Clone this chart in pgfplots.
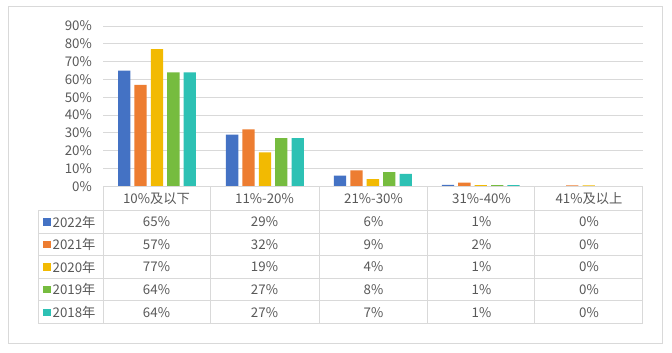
\documentclass[border=0pt]{standalone}
\usepackage{fontspec}
\setmainfont{Noto Sans CJK SC}
\usepackage{pgfplots}
\pgfplotsset{compat=1.18}
\definecolor{c1}{HTML}{4472C4}
\definecolor{c2}{HTML}{ED7D31}
\definecolor{c3}{HTML}{F2BA02}
\definecolor{c4}{HTML}{76BC3F}
\definecolor{c5}{HTML}{2DC1B4}
\definecolor{txt}{HTML}{595959}
\definecolor{grd}{HTML}{D9D9D9}
\begin{document}
\begin{tikzpicture}[font=\fontsize{13.3}{15}\selectfont]
\useasboundingbox (0pt,0pt) rectangle (672pt,353pt);
\fill[white] (0pt,0pt) rectangle (672pt,353pt);
\draw[grd,line width=1pt] (8pt,346pt) rectangle (662pt,9pt);
\begin{axis}[
  at={(103pt,166.7pt)}, anchor=south west,
  scale only axis, width=539.7pt, height=160.3pt,
  xmin=-0.5, xmax=4.5, ymin=0, ymax=90,
  clip=false,
  axis line style={draw=none},
  tick style={draw=none},
  xtick=\empty,
  ytick={0,10,20,30,40,50,60,70,80,90},
  yticklabels={0\%,10\%,20\%,30\%,40\%,50\%,60\%,70\%,80\%,90\%},
  yticklabel style={text=txt, inner sep=0pt, xshift=-11pt},
  ymajorgrids, grid style={grd, line width=0.9pt},
  ybar=4.1pt, bar width=12.3pt,
  /pgf/number format/assume math mode=true,
]
\addplot[fill=c1, draw=none] coordinates {(0,65) (1,29) (2,6) (3,0.8) (4,0)};
\addplot[fill=c2, draw=none] coordinates {(0,57) (1,32) (2,9) (3,2) (4,0.5)};
\addplot[fill=c3, draw=none] coordinates {(0,77) (1,19) (2,4) (3,0.7) (4,0.5)};
\addplot[fill=c4, draw=none] coordinates {(0,64) (1,27) (2,8) (3,0.7) (4,0)};
\addplot[fill=c5, draw=none] coordinates {(0,64) (1,27) (2,7) (3,0.7) (4,0)};
\end{axis}
\begin{scope}[x=1pt,y=1pt]
% data table grid
\begin{scope}[grd, line width=1pt]
\draw (103,166.7) -- (642.7,166.7);
\foreach \y in {142,119.7,97,74.7,52,29} \draw (38,\y) -- (642.7,\y);
\draw (38,142) -- (38,29);
\foreach \x in {103,210.3,319,427.7,534.7,642.7} \draw (\x,166.7) -- (\x,29);
\end{scope}
\begin{scope}[txt]
\node at (156.5,154.5) {10\%及以下};
\node at (264.5,154.5) {11\%-20\%};
\node at (373.5,154.5) {21\%-30\%};
\node at (481.5,154.5) {31\%-40\%};
\node at (589,154.5) {41\%及以上};
% legend keys
\fill[c1] (43.3,127.3) rectangle +(7.4,7.4);
\fill[c2] (43.3,104.8) rectangle +(7.4,7.4);
\fill[c3] (43.3,82.3) rectangle +(7.4,7.4);
\fill[c4] (43.3,59.8) rectangle +(7.4,7.4);
\fill[c5] (43.3,36.8) rectangle +(7.4,7.4);
\node[anchor=west,inner sep=0pt] at (52.5,131) {2022年};
\node[anchor=west,inner sep=0pt] at (52.5,108.5) {2021年};
\node[anchor=west,inner sep=0pt] at (52.5,86) {2020年};
\node[anchor=west,inner sep=0pt] at (52.5,63.5) {2019年};
\node[anchor=west,inner sep=0pt] at (52.5,40.5) {2018年};
% values
\node at (156.5,131) {65\%}; \node at (264.5,131) {29\%}; \node at (373.5,131) {6\%}; \node at (481.5,131) {1\%}; \node at (589,131) {0\%};
\node at (156.5,108.5) {57\%}; \node at (264.5,108.5) {32\%}; \node at (373.5,108.5) {9\%}; \node at (481.5,108.5) {2\%}; \node at (589,108.5) {0\%};
\node at (156.5,86) {77\%}; \node at (264.5,86) {19\%}; \node at (373.5,86) {4\%}; \node at (481.5,86) {1\%}; \node at (589,86) {0\%};
\node at (156.5,63.5) {64\%}; \node at (264.5,63.5) {27\%}; \node at (373.5,63.5) {8\%}; \node at (481.5,63.5) {1\%}; \node at (589,63.5) {0\%};
\node at (156.5,40.5) {64\%}; \node at (264.5,40.5) {27\%}; \node at (373.5,40.5) {7\%}; \node at (481.5,40.5) {1\%}; \node at (589,40.5) {0\%};
\end{scope}
\end{scope}
\end{tikzpicture}
\end{document}
